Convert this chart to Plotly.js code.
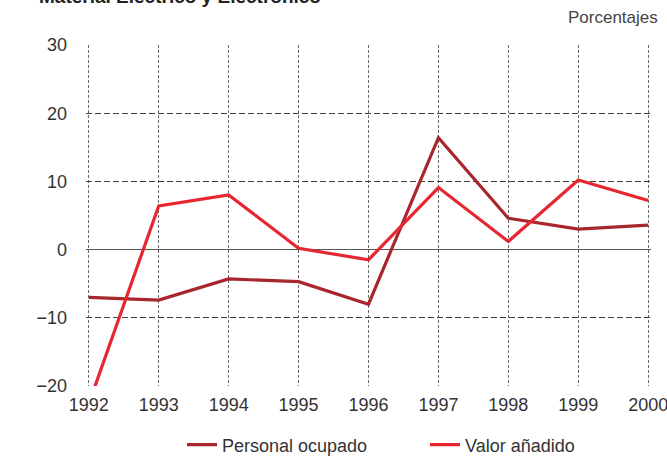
<!DOCTYPE html>
<html>
<head>
<meta charset="utf-8">
<script src="https://cdn.plot.ly/plotly-3.0.1.min.js"></script>
<style>
html,body{margin:0;padding:0;background:#fff;}
#chart{width:667px;height:460px;}
</style>
</head>
<body>
<div id="chart"></div>
<script>
const years = [1992, 1993, 1994, 1995, 1996, 1997, 1998, 1999, 2000];
const personalOcupado = [-7.0, -7.4, -4.3, -4.7, -8.0, 16.4, 4.6, 3.0, 3.6];
const valorAnadido = [-22.6, 6.4, 8.0, 0.2, -1.5, 9.1, 1.2, 10.2, 7.2];
const seriesNames = ["Personal ocupado", "Valor añadido"];
const yTicks = [-20, -10, 0, 10, 20, 30];
const titleText = "Material Eléctrico y Electrónico";
const unitText = "Porcentajes";

const FONT = "Liberation Sans, Arial, sans-serif";

const traces = [
  {x: years, y: personalOcupado, name: seriesNames[0], type: "scatter", mode: "lines",
   line: {color: "#a8262e", width: 3.2}, legend: "legend"},
  {x: years, y: valorAnadido, name: seriesNames[1], type: "scatter", mode: "lines",
   line: {color: "#e8262f", width: 3.2}, legend: "legend2"}
];

const legendFont = {family: FONT, size: 18, color: "#333"};
const PW = 565, PH = 341, ML = 86, PT = 45;
function px2x(p) { return (p - ML) / PW; }
function py2y(p) { return (PT + PH - p) / PH; }

const layout = {
  width: 667, height: 460,
  margin: {l: ML, r: 16, t: PT, b: 74, autoexpand: false},
  paper_bgcolor: "#fff", plot_bgcolor: "#fff",
  font: {family: FONT, size: 18, color: "#333"},
  showlegend: true,
  legend: {orientation: "h", x: px2x(182), xanchor: "left", y: py2y(445), yanchor: "middle",
           font: legendFont, bgcolor: "rgba(0,0,0,0)", borderwidth: 0},
  legend2: {orientation: "h", x: px2x(425), xanchor: "left", y: py2y(445), yanchor: "middle",
           font: legendFont, bgcolor: "rgba(0,0,0,0)", borderwidth: 0},
  xaxis: {range: [1991.96, 2000.04], tickvals: years, ticktext: years.map(String),
          showgrid: true, gridcolor: "#666", gridwidth: 1, griddash: "3px,2px",
          zeroline: false, showline: false, ticks: "", ticklabelstandoff: 6,
          ticklabeloverflow: "allow",
          tickfont: {family: FONT, size: 18, color: "#333"}, fixedrange: true},
  yaxis: {range: [-20, 30], tickvals: yTicks,
          showgrid: true, gridcolor: "#444", gridwidth: 1, griddash: "6px,3px",
          zeroline: true, zerolinecolor: "#555", zerolinewidth: 1.3,
          showline: false, ticks: "", ticklabelstandoff: 18,
          tickfont: {family: FONT, size: 18, color: "#333"}, fixedrange: true},
  annotations: [
    {text: "<b>" + titleText + "</b>", xref: "paper", yref: "paper",
     x: px2x(37), xanchor: "left", y: py2y(9), yanchor: "bottom",
     showarrow: false, font: {family: FONT, size: 19, color: "#222"}},
    {text: unitText, xref: "paper", yref: "paper",
     x: px2x(660), xanchor: "right", y: py2y(17), yanchor: "middle",
     showarrow: false, font: {family: FONT, size: 17, color: "#444"}}
  ]
};

Plotly.newPlot("chart", traces, layout, {displayModeBar: false, staticPlot: true});
</script>
</body>
</html>
